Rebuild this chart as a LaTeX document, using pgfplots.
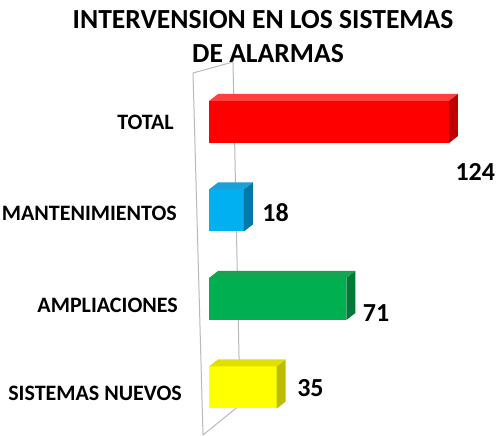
\documentclass[border=0pt]{standalone}
\usepackage{pgfplots}
\pgfplotsset{compat=1.18}
\usepackage{fontspec}
\setmainfont{Carlito}
\definecolor{cRed}{HTML}{FF0000}\definecolor{cRedT}{HTML}{FF4040}\definecolor{cRedS}{HTML}{C00000}
\definecolor{cBlue}{HTML}{00B0F0}\definecolor{cBlueT}{HTML}{1A9FD6}\definecolor{cBlueS}{HTML}{0078A8}
\definecolor{cGreen}{HTML}{00B050}\definecolor{cGreenT}{HTML}{14A452}\definecolor{cGreenS}{HTML}{007A36}
\definecolor{cYel}{HTML}{FFFF00}\definecolor{cYelT}{HTML}{E0E000}\definecolor{cYelS}{HTML}{BDBD00}
\newcommand{\faces}[4]{%
  \fill[#3] ([yshift=21pt]axis cs:0,#2) -- ([xshift=9pt,yshift=28pt]axis cs:0,#2) -- ([xshift=9pt,yshift=28pt]axis cs:#1,#2) -- ([yshift=21pt]axis cs:#1,#2) -- cycle;
  \fill[#4] ([yshift=-21pt]axis cs:#1,#2) -- ([yshift=21pt]axis cs:#1,#2) -- ([xshift=9pt,yshift=28pt]axis cs:#1,#2) -- ([xshift=9pt,yshift=-14pt]axis cs:#1,#2) -- cycle;}
\begin{document}
\begin{tikzpicture}[x=1pt,y=1pt]
\useasboundingbox (0,0) rectangle (499,436);
\node[anchor=base,font=\fontsize{27.6}{30}\selectfont\bfseries] at (263,{436-29}) {INTERVENSION EN LOS SISTEMAS};
\node[anchor=base,font=\fontsize{27.6}{30}\selectfont\bfseries] at (268,{436-63}) {DE ALARMAS};
\draw[gray!55, line width=1pt, line join=round] (233,{436-62}) -- (193,{436-73}) -- (203,{436-435}) -- (240,{436-405}) -- cycle;
\begin{axis}[at={(209pt,4.25pt)}, anchor=south west, scale only axis,
  width=240pt, height=354pt, xmin=0, xmax=124, ymin=-0.5, ymax=3.5,
  axis lines=none, clip=false, xbar, bar shift=0pt, bar width=42pt,
  every axis plot/.append style={draw=none}]
\addplot[fill=cRed] coordinates {(124,3)};
\addplot[fill=cBlue] coordinates {(18,2)};
\addplot[fill=cGreen] coordinates {(71,1)};
\addplot[fill=cYel] coordinates {(35,0)};
\faces{124}{3}{cRedT}{cRedS}
\faces{18}{2}{cBlueT}{cBlueS}
\faces{71}{1}{cGreenT}{cGreenS}
\faces{35}{0}{cYelT}{cYelS}
% category labels
\tikzset{cat/.style={anchor=east,font=\fontsize{22}{24}\selectfont\bfseries}}
\node[cat,xshift=-31.7pt] at (axis cs:0,3) {TOTAL};
\node[cat,xshift=-28.7pt,yshift=-3pt] at (axis cs:0,2) {MANTENIMIENTOS};
\node[cat,xshift=-27.7pt,yshift=-6pt] at (axis cs:0,1) {AMPLIACIONES};
\node[cat,xshift=-23.7pt,yshift=-5.5pt] at (axis cs:0,0) {SISTEMAS NUEVOS};
% value labels
\tikzset{val/.style={anchor=west,font=\fontsize{26}{28}\selectfont\bfseries}}
\node[val,xshift=3pt,yshift=-50pt] at (axis cs:124,3) {124};
\node[val,xshift=15pt,yshift=-2pt] at (axis cs:18,2) {18};
\node[val,xshift=13pt,yshift=-14pt] at (axis cs:71,1) {71};
\node[val,xshift=17pt,yshift=-1pt] at (axis cs:35,0) {35};
\end{axis}
\end{tikzpicture}
\end{document}
